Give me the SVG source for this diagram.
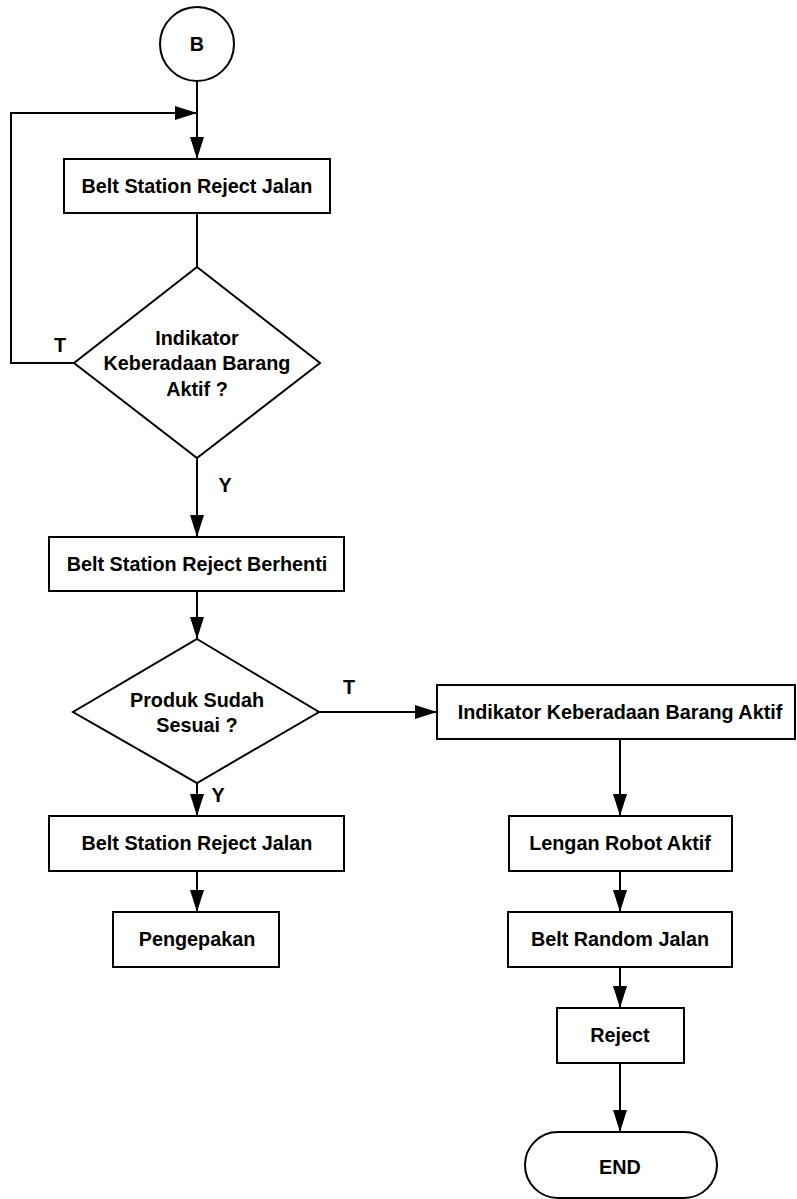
<svg xmlns="http://www.w3.org/2000/svg" width="797" height="1199" viewBox="0 0 797 1199">
  <style>
    .shape { fill: #ffffff; stroke: #000000; stroke-width: 2; }
    .line { fill: none; stroke: #000000; stroke-width: 2; }
    .arrow { marker-end: url(#head); }
    text { font-family: "Liberation Sans", Arial, sans-serif; font-weight: bold; font-size: 19.8px; fill: #000000; text-anchor: middle; }
  </style>
  <defs>
    <marker id="head" markerUnits="userSpaceOnUse" markerWidth="23" markerHeight="15" refX="22" refY="7" orient="auto">
      <path d="M0,0 L22,7 L0,14 Z" fill="#000000"/>
    </marker>
  </defs>
  <rect width="797" height="1199" fill="#ffffff"/>

  <!-- connectors -->
  <g id="connectors">
    <path class="line arrow" d="M197,81 L197,159"/>
    <path class="line arrow" d="M74,363 L11,363 L11,113 L197,113"/>
    <path class="line" d="M197,213 L197,267"/>
    <path class="line arrow" d="M197,458 L197,537"/>
    <path class="line arrow" d="M197,591 L197,639"/>
    <path class="line arrow" d="M319,712 L437,712"/>
    <path class="line arrow" d="M197,783 L197,816"/>
    <path class="line arrow" d="M197,871 L197,912"/>
    <path class="line arrow" d="M620,739 L620,816"/>
    <path class="line arrow" d="M620,871 L620,912"/>
    <path class="line arrow" d="M620,967 L620,1008"/>
    <path class="line arrow" d="M620,1063 L620,1132"/>
    <text x="60" y="352">T</text>
    <text x="225" y="492">Y</text>
    <text x="349" y="694">T</text>
    <text x="218" y="802">Y</text>
  </g>

  <!-- nodes -->
  <g id="start-b">
    <circle class="shape" cx="197" cy="44" r="37"/>
    <text x="197" y="51">B</text>
  </g>
  <g id="belt-jalan-1">
    <rect class="shape" x="64" y="159" width="266" height="54"/>
    <text x="197" y="193">Belt Station Reject Jalan</text>
  </g>
  <g id="cek-barang">
    <polygon class="shape" points="197,267 320,363 197,458 74,363"/>
    <text x="197" y="345">Indikator</text>
    <text x="197" y="370">Keberadaan Barang</text>
    <text x="197" y="396">Aktif ?</text>
  </g>
  <g id="belt-berhenti">
    <rect class="shape" x="49" y="537" width="295" height="54"/>
    <text x="197" y="571">Belt Station Reject Berhenti</text>
  </g>
  <g id="cek-produk">
    <polygon class="shape" points="197,639 319,712 197,783 73,712"/>
    <text x="197" y="707">Produk Sudah</text>
    <text x="197" y="732">Sesuai ?</text>
  </g>
  <g id="belt-jalan-2">
    <rect class="shape" x="49" y="816" width="295" height="55"/>
    <text x="197" y="850">Belt Station Reject Jalan</text>
  </g>
  <g id="pengepakan">
    <rect class="shape" x="113" y="912" width="166" height="55"/>
    <text x="197" y="946">Pengepakan</text>
  </g>
  <g id="indikator-aktif">
    <rect class="shape" x="437" y="685" width="358" height="54"/>
    <text x="620" y="719">Indikator Keberadaan Barang Aktif</text>
  </g>
  <g id="lengan-robot">
    <rect class="shape" x="509" y="816" width="223" height="55"/>
    <text x="620" y="850">Lengan Robot Aktif</text>
  </g>
  <g id="belt-random">
    <rect class="shape" x="508" y="912" width="224" height="55"/>
    <text x="620" y="946">Belt Random Jalan</text>
  </g>
  <g id="reject">
    <rect class="shape" x="557" y="1008" width="127" height="55"/>
    <text x="620" y="1042">Reject</text>
  </g>
  <g id="end">
    <rect class="shape" x="525" y="1132" width="192" height="66" rx="33" ry="33"/>
    <text x="620" y="1174">END</text>
  </g>
</svg>
